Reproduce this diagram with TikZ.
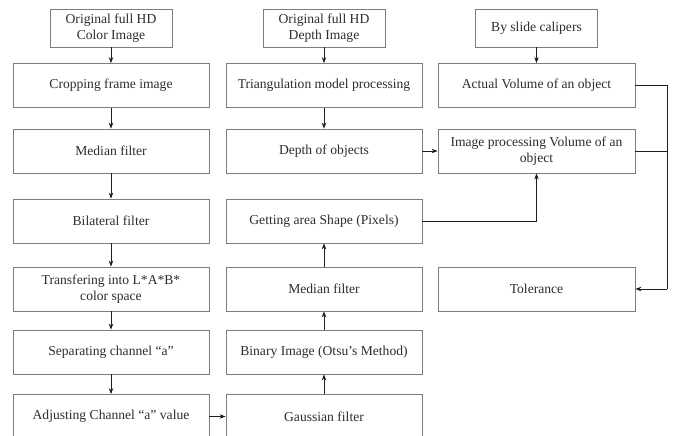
\documentclass[tikz,border=0pt]{standalone}
\usepackage{fontspec}
\setmainfont{Liberation Serif}
\usetikzlibrary{arrows.meta}
\definecolor{boxgray}{RGB}{125,125,125}
\definecolor{txt}{RGB}{45,45,45}
\definecolor{arr}{RGB}{30,30,30}
\tikzset{
  stepbox/.style={draw=boxgray, line width=0.8pt, minimum width=196pt, minimum height=44pt,
    inner sep=2pt, align=center, text=txt, font=\fontsize{13.6}{16}\selectfont},
  topbox/.style={stepbox, minimum width=122pt, minimum height=38pt},
  flow/.style={draw=arr, line width=0.8pt, -{Stealth[length=6pt,width=4.5pt]}},
  plain/.style={draw=arr, line width=0.8pt}
}
\begin{document}
\begin{tikzpicture}[x=1pt,y=-1pt]
\useasboundingbox (0,0) rectangle (675,436);
\clip (0,0) rectangle (675,436);
\fill[white] (0,0) rectangle (675,436);
% column 1
\node[topbox] (t1) at (111,28) {Original full HD\\Color Image};
\node[stepbox] (crop) at (111,85.5) {Cropping frame image};
\node[stepbox] (med1) at (111,151) {Median filter};
\node[stepbox] (bil) at (111,221) {Bilateral filter};
\node[stepbox] (lab) at (111,289) {Transfering into L*A*B*\\color space};
\node[stepbox] (sep) at (111,352) {Separating channel “a”};
\node[stepbox] (adj) at (111,416.5) {Adjusting Channel “a” value};
% column 2
\node[topbox] (t2) at (324,28) {Original full HD\\Depth Image};
\node[stepbox] (tri) at (324,85.5) {Triangulation model processing};
\node[stepbox] (dep) at (324,151) {Depth of objects};
\node[stepbox] (get) at (324,221) {Getting area Shape (Pixels)};
\node[stepbox] (med2) at (324,289) {Median filter};
\node[stepbox] (bin) at (324,352) {Binary Image (Otsu’s Method)};
\node[stepbox] (gau) at (324,416.5) {Gaussian filter};
% column 3
\node[topbox] (t3) at (536.5,28) {By slide calipers};
\node[stepbox, minimum width=197pt] (act) at (536.5,85.5) {Actual Volume of an object};
\node[stepbox, minimum width=197pt] (imgp) at (536.5,151) {Image processing Volume of an\\object};
\node[stepbox, minimum width=197pt] (tol) at (536.5,289) {Tolerance};
\coordinate (rA) at (667,85.5);
\coordinate (rB) at (667,151);
\coordinate (rC) at (667,289);
% arrows column 1
\draw[flow] (t1) -- (crop);
\draw[flow] (crop) -- (med1);
\draw[flow] (med1) -- (bil);
\draw[flow] (bil) -- (lab);
\draw[flow] (lab) -- (sep);
\draw[flow] (sep) -- (adj);
\draw[flow] (adj) -- (gau);
% column 2
\draw[flow] (t2) -- (tri);
\draw[flow] (tri) -- (dep);
\draw[flow] (gau) -- (bin);
\draw[flow] (bin) -- (med2);
\draw[flow] (med2) -- (get);
\draw[flow] (dep) -- (imgp);
\draw[flow] (get.east) -| (imgp.south);
% column 3
\draw[flow] (t3) -- (act);
\draw[plain] (act.east) -- (rA) -- (rC);
\draw[plain] (imgp.east) -- (rB);
\draw[flow] (rC) -- (tol.east);
\end{tikzpicture}
\end{document}
